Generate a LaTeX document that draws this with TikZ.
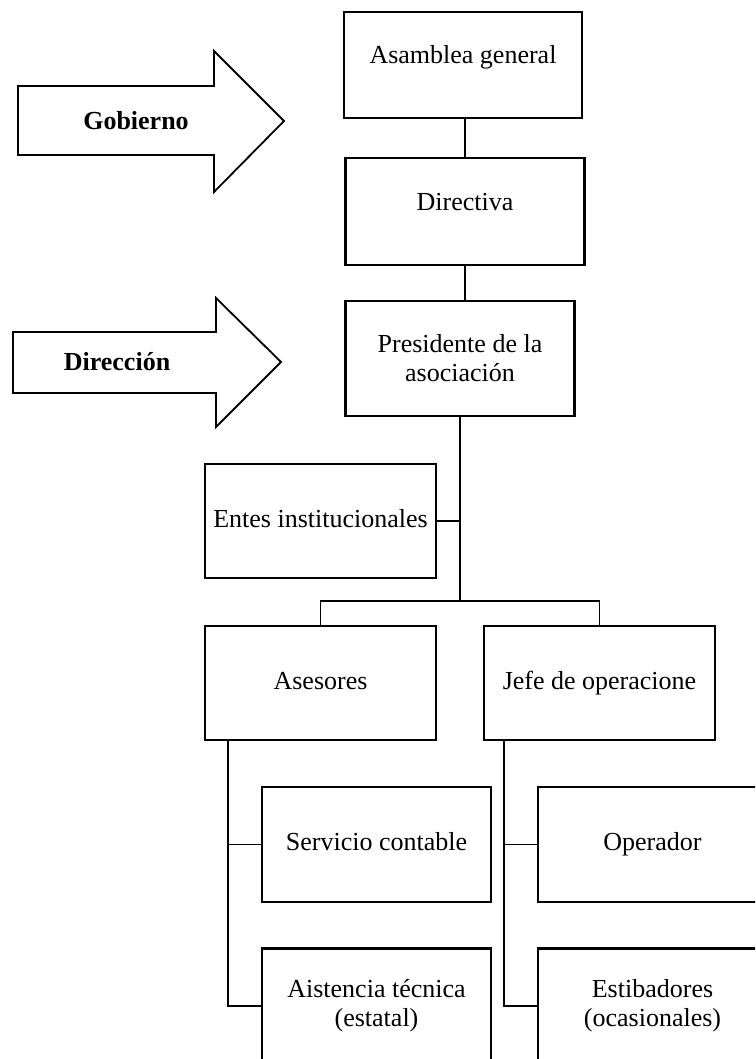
\documentclass[tikz,border=0pt]{standalone}
\usepackage{fontspec}
\setmainfont{Liberation Serif}
\usetikzlibrary{positioning}

\begin{document}
\begin{tikzpicture}[x=1pt,y=-1pt,
every node/.style={font=\fontsize{26}{29}\selectfont},
orgbox/.style={draw,line width=2.6pt,minimum width=231pt,minimum height=114pt,inner sep=0pt,align=center},
oneline/.style={text height=18pt,text depth=6pt},
raised/.style={text height=18pt,text depth=20pt},
link/.style={line width=1.4pt},
bigarrow/.style={draw,line width=1.8pt,line join=miter}]
\useasboundingbox (0,0) rectangle (755,1059);
\clip (0,0) rectangle (755,1059);

\node[orgbox,minimum width=238pt,minimum height=106pt,raised] (A1) at (463,65) {Asamblea general};
\node[orgbox,minimum width=239pt,minimum height=107pt,raised] (A2) at (465,211.5) {Directiva};
\node[orgbox,minimum width=229pt,minimum height=115pt] (A3) at (460,358.5) {Presidente de la\\asociación};
\node[orgbox,oneline] (A4) at (320.5,521) {Entes institucionales};
\node[orgbox,oneline] (A5) at (320.5,683) {Asesores};
\node[orgbox,oneline] (A6) at (599.5,683) {Jefe de operacione};
\node[orgbox,oneline,minimum width=229pt,minimum height=115pt] (A7) at (376.5,844.5) {Servicio contable};
\node[orgbox,minimum width=229pt,minimum height=115pt] (A8) at (376.5,1006) {Aistencia técnica\\(estatal)};
\node[orgbox,oneline,minimum width=229pt,minimum height=115pt] (A9) at (652.5,844.5) {Operador};
\node[orgbox,minimum width=229pt,minimum height=115pt] (A10) at (652.5,1006) {Estibadores\\(ocasionales)};

\coordinate (H) at (460,601);
\coordinate (L) at (228,740);
\coordinate (R) at (504,740);
\draw[link] (A2.north) -- (A2.north |- A1.south);
\draw[link] (A2.south) -- (A2.south |- A3.north);
\draw[link] (A3.south) -- (H);
\draw[link] (A4.east) -- (A4.east -| H);
\draw[link] (A5.north) |- (H) -| (A6.north);
\draw[link] (L) |- (A8.west);
\draw[link] (L |- A7.west) -- (A7.west);
\draw[link] (R) |- (A10.west);
\draw[link] (R |- A9.west) -- (A9.west);

% left arrows
\draw[bigarrow] (18,86) -- (214,86) -- (214,51) -- (284,121) -- (214,192) -- (214,155) -- (18,155) -- cycle;
\node[font=\bfseries\fontsize{26}{29}\selectfont] (G) at (136,121) {Gobierno};
\draw[bigarrow] (13,332) -- (216,332) -- (216,298) -- (281,362) -- (216,427) -- (216,393) -- (13,393) -- cycle;
\node[font=\bfseries\fontsize{26}{29}\selectfont] (D) at (117,362) {Dirección};

\end{tikzpicture}
\end{document}
